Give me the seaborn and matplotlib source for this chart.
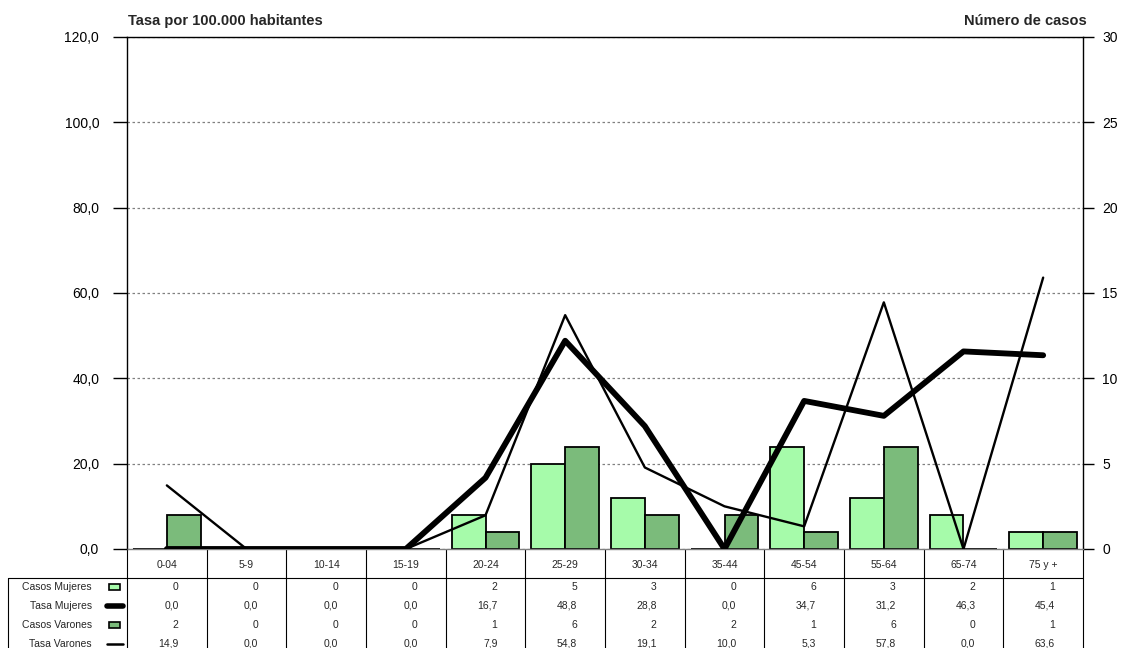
import pandas as pd
import matplotlib.pyplot as plt
import matplotlib.ticker as mticker
from matplotlib.patches import Rectangle
from matplotlib.lines import Line2D
import seaborn as sns

grupos = ['0-04', '5-9', '10-14', '15-19', '20-24', '25-29', '30-34', '35-44', '45-54', '55-64', '65-74', '75 y +']
casos_mujeres = [0, 0, 0, 0, 2, 5, 3, 0, 6, 3, 2, 1]
casos_varones = [2, 0, 0, 0, 1, 6, 2, 2, 1, 6, 0, 1]
tasa_mujeres = [0.0, 0.0, 0.0, 0.0, 16.7, 48.8, 28.8, 0.0, 34.7, 31.2, 46.3, 45.4]
tasa_varones = [14.9, 0.0, 0.0, 0.0, 7.9, 54.8, 19.1, 10.0, 5.3, 57.8, 0.0, 63.6]

verde_claro = '#a6fbaa'
verde_oscuro = '#7bbb7b'

sns.set_style('white')
plt.rcParams['font.family'] = ['Liberation Sans', 'DejaVu Sans']

df_casos = pd.DataFrame({
    'grupo': grupos * 2,
    'sexo': ['Mujeres'] * len(grupos) + ['Varones'] * len(grupos),
    'casos': casos_mujeres + casos_varones,
})

fig = plt.figure(figsize=(11.28, 6.48), dpi=100)
ax = fig.add_axes([0.1126, 0.1528, 0.8475, 0.7902])

# barras (casos) en el eje derecho
sns.barplot(data=df_casos, x='grupo', y='casos', hue='sexo', order=grupos,
            palette=[verde_claro, verde_oscuro], saturation=1, width=0.85,
            edgecolor='black', linewidth=1.3, legend=False, ax=ax)

# lineas (tasas) en el eje izquierdo
ax2 = ax.twinx()
sns.pointplot(x=grupos, y=tasa_mujeres, order=grupos, color='black', markers='',
              linewidth=4.2, errorbar=None, ax=ax2)
sns.pointplot(x=grupos, y=tasa_varones, order=grupos, color='black', markers='',
              linewidth=1.7, errorbar=None, ax=ax2)

ax.set_xlim(-0.5, len(grupos) - 0.5)
ax.set_ylim(0, 30)
ax2.set_ylim(0, 120)
ax.set_yticks(range(0, 31, 5))
ax2.set_yticks(range(0, 121, 20))
ax2.yaxis.set_major_formatter(mticker.FuncFormatter(lambda v, p: f'{v:.1f}'.replace('.', ',')))

ax.yaxis.tick_right()
ax2.yaxis.tick_left()
ax.set_xlabel('')
ax.set_ylabel('')
ax2.set_ylabel('')
ax.tick_params(axis='y', direction='out', length=8, width=1, pad=6, labelsize=10, colors='black')
ax2.tick_params(axis='y', direction='out', length=10, width=1, pad=10, labelsize=10, colors='black')
ax.tick_params(axis='x', length=0, pad=8, labelsize=7.5)
ax.set_xticks(range(len(grupos)))
ax.set_xticklabels(grupos)

ax.set_axisbelow(True)
ax.yaxis.grid(True, linestyle=(0, (2, 2)), color='#808080', linewidth=0.9)
ax.xaxis.grid(False)
for s in ['left', 'top', 'right']:
    ax.spines[s].set_color('black')
    ax.spines[s].set_linewidth(1)
ax.spines['bottom'].set_color('#808080')
ax.spines['bottom'].set_linewidth(1)
for s in ax2.spines.values():
    s.set_visible(False)

fig.text(128 / 1128, 1 - 21 / 648, 'Tasa por 100.000 habitantes', fontsize=10.5,
         fontweight='bold', ha='left', va='center')
fig.text(1087 / 1128, 1 - 21 / 648, 'Número de casos', fontsize=10.5,
         fontweight='bold', ha='right', va='center')

# tabla de datos
tx = ax.get_xaxis_transform()
fondo = -0.21
ax.vlines([i - 0.5 for i in range(len(grupos) + 1)], fondo, 0, transform=tx,
          colors='black', linewidth=0.8, clip_on=False)
ax.add_line(Line2D([-0.1245, 1.0], [-0.0566, -0.0566], transform=ax.transAxes,
                   color='black', linewidth=0.8, clip_on=False))
ax.add_line(Line2D([-0.1245, -0.1245], [-0.0566, fondo], transform=ax.transAxes,
                   color='black', linewidth=0.8, clip_on=False))

filas = [
    ('Casos Mujeres', casos_mujeres, 'rect', verde_claro),
    ('Tasa Mujeres', tasa_mujeres, 'line', 4),
    ('Casos Varones', casos_varones, 'rect', verde_oscuro),
    ('Tasa Varones', tasa_varones, 'line', 1.8),
]
ys = [-0.0742, -0.1113, -0.1484, -0.1855]
for (nombre, valores, tipo, estilo), y in zip(filas, ys):
    ax.text(-0.0366, y, nombre, transform=ax.transAxes, ha='right', va='center',
            fontsize=7.5, clip_on=False)
    if tipo == 'rect':
        ax.add_patch(Rectangle((-0.0185, y - 0.0065), 0.0115, 0.013, transform=ax.transAxes,
                               facecolor=estilo, edgecolor='black', linewidth=1.2, clip_on=False))
    else:
        ax.add_line(Line2D([-0.0205, -0.004], [y, y], transform=ax.transAxes,
                           color='black', linewidth=estilo, solid_capstyle='round', clip_on=False))
    for i, v in enumerate(valores):
        txt = f'{v:.1f}'.replace('.', ',') if tipo == 'line' else str(v)
        ax.text(i + 0.15, y, txt, transform=tx, ha='right', va='center', fontsize=7.5, clip_on=False)

fig.savefig('out.png', dpi=100)
